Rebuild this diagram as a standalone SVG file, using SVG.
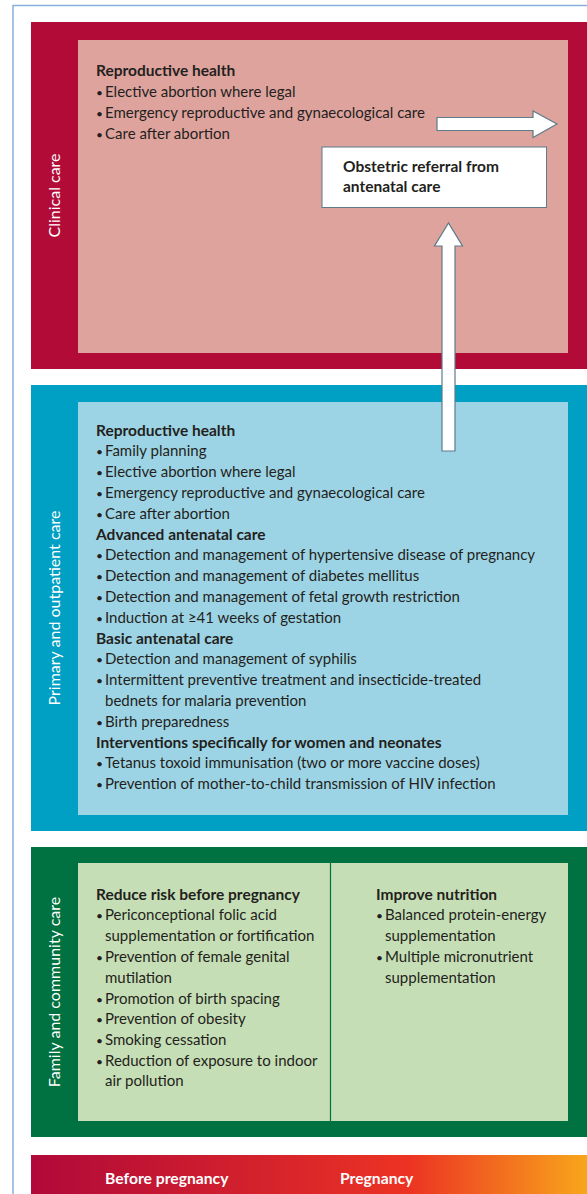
<svg xmlns="http://www.w3.org/2000/svg" width="587" height="1194" viewBox="0 0 587 1194">
<style>
text{font-family:Lato,"Liberation Sans",sans-serif;font-size:15px;fill:#231f20}
.b{font-weight:bold;font-size:15.5px}
.u{font-size:12px}
.side{fill:#fff;font-size:16px}
.bar{fill:#fff;font-weight:bold;font-size:15.7px}
.arrow{fill:#fff;stroke:#5d7b89;stroke-width:1.2}
</style>
<defs>
<linearGradient id="g" x1="0" y1="0" x2="1" y2="0">
<stop offset="0" stop-color="#b0083a"/>
<stop offset="0.68" stop-color="#ec3323"/>
<stop offset="1" stop-color="#f8a61b"/>
</linearGradient>
</defs>
<rect width="587" height="1194" fill="#fff"/>
<path d="M13,1194 V5.5 H587" fill="none" stroke="#8aaedb" stroke-width="1.5"/>

<g id="clinical">
<rect x="31" y="22" width="556" height="347" fill="#b20b38"/>
<rect x="78" y="40" width="490" height="313" fill="#dfa39e"/>
<text class="side" transform="translate(60,195.5) rotate(-90)" text-anchor="middle">Clinical care</text>
<text class="b" x="96" y="76">Reproductive health</text>
<text x="96" y="97"><tspan class="u">•</tspan><tspan x="105">Elective abortion where legal</tspan></text>
<text x="96" y="118"><tspan class="u">•</tspan><tspan x="105">Emergency reproductive and gynaecological care</tspan></text>
<text x="96" y="139"><tspan class="u">•</tspan><tspan x="105">Care after abortion</tspan></text>
</g>

<g id="obstetric">
<rect x="322" y="147" width="224.5" height="60.5" fill="#fff" stroke="#5d7b89" stroke-width="1"/>
<text class="b" x="343" y="172">Obstetric referral from</text>
<text class="b" x="343" y="192">antenatal care</text>
</g>

<g id="primary">
<rect x="31" y="385" width="556" height="446" fill="#00a0c4"/>
<rect x="78" y="402" width="490" height="413" fill="#9dd4e5"/>
<text class="side" transform="translate(60,608) rotate(-90)" text-anchor="middle">Primary and outpatient care</text>
<text class="b" x="96" y="436">Reproductive health</text>
<text x="96" y="456"><tspan class="u">•</tspan><tspan x="105">Family planning</tspan></text>
<text x="96" y="477"><tspan class="u">•</tspan><tspan x="105">Elective abortion where legal</tspan></text>
<text x="96" y="498"><tspan class="u">•</tspan><tspan x="105">Emergency reproductive and gynaecological care</tspan></text>
<text x="96" y="519"><tspan class="u">•</tspan><tspan x="105">Care after abortion</tspan></text>
<text class="b" x="96" y="540">Advanced antenatal care</text>
<text x="96" y="560"><tspan class="u">•</tspan><tspan x="105">Detection and management of hypertensive disease of pregnancy</tspan></text>
<text x="96" y="581"><tspan class="u">•</tspan><tspan x="105">Detection and management of diabetes mellitus</tspan></text>
<text x="96" y="602"><tspan class="u">•</tspan><tspan x="105">Detection and management of fetal growth restriction</tspan></text>
<text x="96" y="623"><tspan class="u">•</tspan><tspan x="105">Induction at ≥41 weeks of gestation</tspan></text>
<text class="b" x="96" y="644">Basic antenatal care</text>
<text x="96" y="664"><tspan class="u">•</tspan><tspan x="105">Detection and management of syphilis</tspan></text>
<text x="96" y="685"><tspan class="u">•</tspan><tspan x="105">Intermittent preventive treatment and insecticide-treated</tspan></text>
<text x="105" y="706">bednets for malaria prevention</text>
<text x="96" y="727"><tspan class="u">•</tspan><tspan x="105">Birth preparedness</tspan></text>
<text class="b" x="96" y="748">Interventions specifically for women and neonates</text>
<text x="96" y="768"><tspan class="u">•</tspan><tspan x="105">Tetanus toxoid immunisation (two or more vaccine doses)</tspan></text>
<text x="96" y="789"><tspan class="u">•</tspan><tspan x="105">Prevention of mother-to-child transmission of HIV infection</tspan></text>
</g>

<g id="community">
<rect x="31" y="847" width="556" height="290" fill="#007140"/>
<rect x="78" y="863" width="490" height="258" fill="#c6deb5"/>
<line x1="330.5" y1="863" x2="330.5" y2="1121" stroke="#007140" stroke-width="1.2"/>
<text class="side" transform="translate(60,992) rotate(-90)" text-anchor="middle">Family and community care</text>
<text class="b" x="96" y="900">Reduce risk before pregnancy</text>
<text x="96" y="920"><tspan class="u">•</tspan><tspan x="105">Periconceptional folic acid</tspan></text>
<text x="105" y="941">supplementation or fortification</text>
<text x="96" y="962"><tspan class="u">•</tspan><tspan x="105">Prevention of female genital</tspan></text>
<text x="105" y="983">mutilation</text>
<text x="96" y="1004"><tspan class="u">•</tspan><tspan x="105">Promotion of birth spacing</tspan></text>
<text x="96" y="1024"><tspan class="u">•</tspan><tspan x="105">Prevention of obesity</tspan></text>
<text x="96" y="1045"><tspan class="u">•</tspan><tspan x="105">Smoking cessation</tspan></text>
<text x="96" y="1066"><tspan class="u">•</tspan><tspan x="105">Reduction of exposure to indoor</tspan></text>
<text x="105" y="1086">air pollution</text>
<text class="b" x="376" y="900">Improve nutrition</text>
<text x="376" y="920"><tspan class="u">•</tspan><tspan x="385">Balanced protein-energy</tspan></text>
<text x="385" y="941">supplementation</text>
<text x="376" y="962"><tspan class="u">•</tspan><tspan x="385">Multiple micronutrient</tspan></text>
<text x="385" y="983">supplementation</text>
</g>

<g id="timeline">
<rect x="31" y="1155" width="556" height="39" fill="url(#g)"/>
<text class="bar" x="105" y="1184">Before pregnancy</text>
<text class="bar" x="340" y="1184">Pregnancy</text>
</g>

<g id="connectors">
<path class="arrow" d="M437,117.5 H533 V111 L557,124 L533,137.5 V130.5 H437 Z"/>
<path class="arrow" d="M442,451 V246 H434.5 L448.5,223 L462.5,246 H455 V451 Z"/>
</g>
</svg>
